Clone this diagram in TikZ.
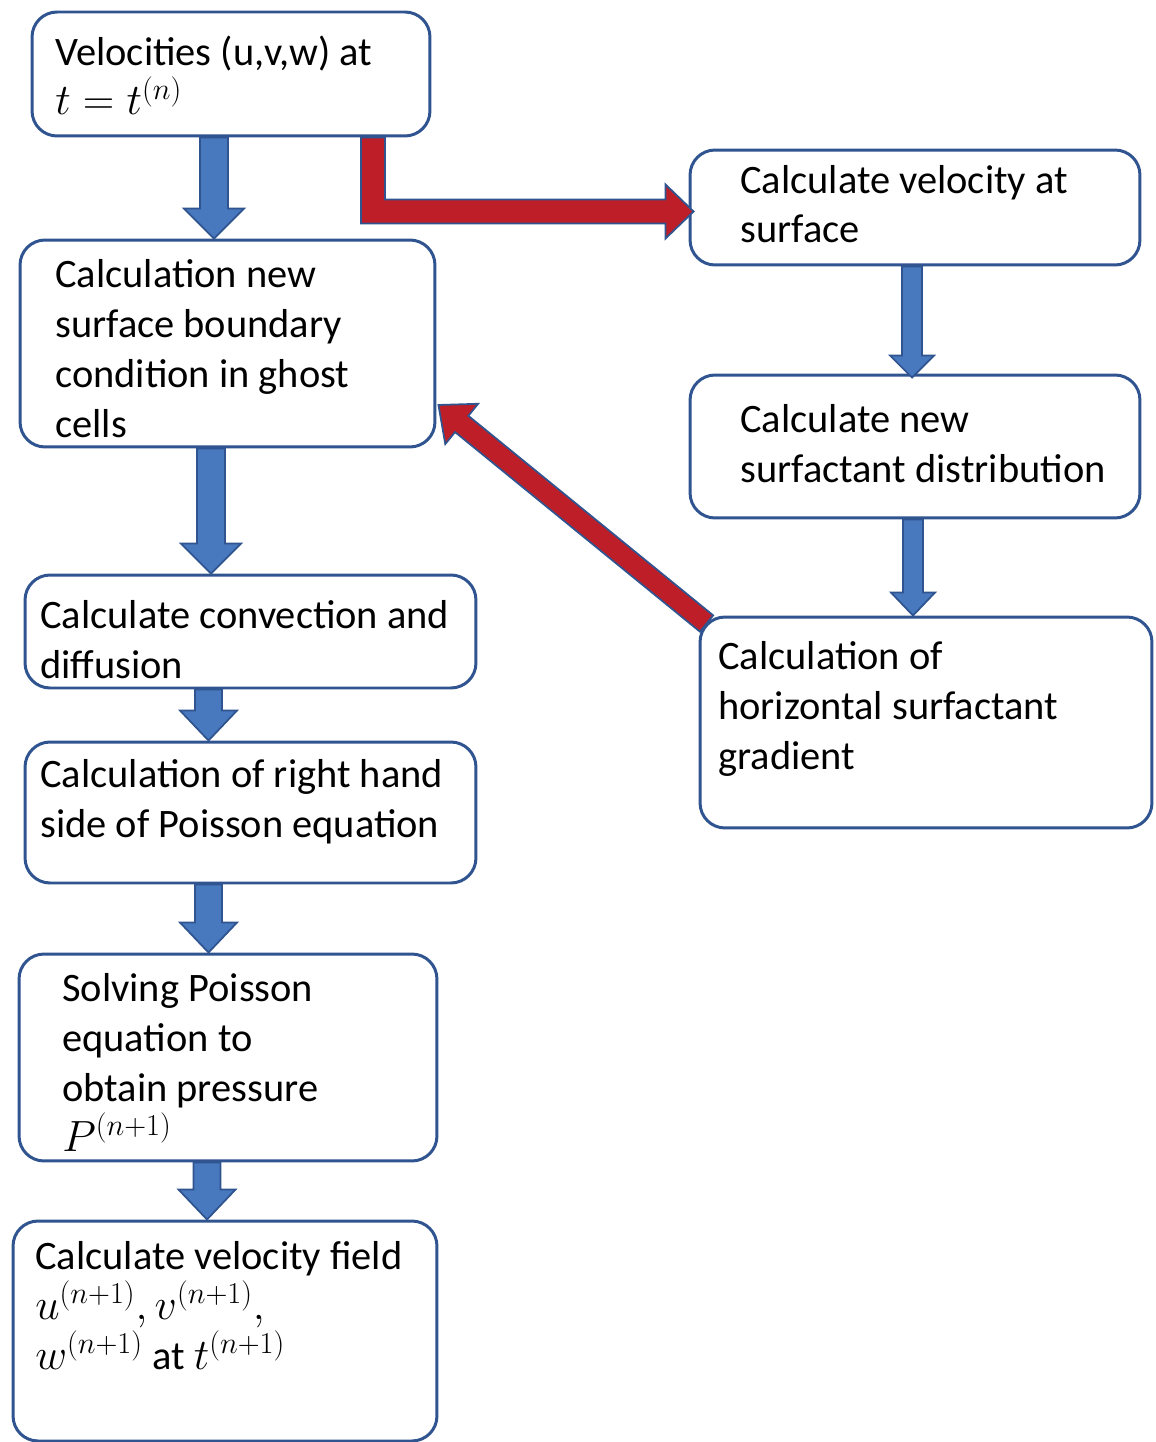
\documentclass[tikz,border=0pt]{standalone}
\usepackage{fontspec}
\setmainfont{Carlito}
\usetikzlibrary{calc, positioning}

\definecolor{boxline}{RGB}{47,84,143}
\definecolor{arrowblue}{RGB}{72,120,190}
\definecolor{arrowred}{RGB}{190,30,40}

\tikzset{
  box/.style={draw=boxline, line width=1.7pt, rounded corners=0.5cm, fill=white},
  txt/.style={inner sep=0pt, align=left, anchor=base west, font=\fontsize{23}{28.45}\selectfont},
  bluearrow/.style={draw=boxline, fill=arrowblue, line width=1pt},
  redarrow/.style={draw=boxline, fill=arrowred, line width=1pt}
}

% block arrow: [style]{from}{to}{shaft half width}{head half width}{head length}
\newcommand{\blockarrow}[6][bluearrow]{%
  \coordinate (ba-h) at ($(#3)!#6!(#2)$);
  \filldraw[#1] ($(#2)!#4!90:(#3)$) -- ($(ba-h)!#4!90:(#3)$) -- ($(ba-h)!#5!90:(#3)$)
    -- (#3) -- ($(ba-h)!#5!-90:(#3)$) -- ($(ba-h)!#4!-90:(#3)$) -- ($(#2)!#4!-90:(#3)$) -- cycle;
}

\begin{document}
\begin{tikzpicture}[x=0.02cm, y=-0.02cm]
		\useasboundingbox (0,0) rectangle (1155,1442);
		\lineskiplimit=-20pt
		
		% Cajas columna izquierda
		\node[box, minimum width=7.96cm, minimum height=2.48cm] (vel) at (231,74) {};
		\node[box, minimum width=8.3cm, minimum height=4.14cm] (bc) at (227.5,343.5) {};
		\node[box, minimum width=9.02cm, minimum height=2.26cm] (conv) at (250.5,631.5) {};
		\node[box, minimum width=9.02cm, minimum height=2.82cm] (rhs) at (250.5,812.5) {};
		\node[box, minimum width=8.36cm, minimum height=4.14cm] (poi) at (228,1057.5) {};
		\node[box, minimum width=8.48cm, minimum height=4.4cm] (vf) at (225,1331) {};
		
		% Cajas columna derecha
		\node[box, minimum width=9cm, minimum height=2.3cm] (surf) at (915,207.5) {};
		\node[box, minimum width=9cm, minimum height=2.86cm] (dist) at (915,446.5) {};
		\node[box, minimum width=9.04cm, minimum height=4.22cm] (grad) at (926,722.5) {};
		
		% Flechas azules
		\coordinate (a1) at ([xshift=-0.34cm]vel.south);
		\coordinate (b1) at (a1 |- bc.north);
		\blockarrow{a1}{b1}{0.28cm}{0.6cm}{0.6cm}
		\coordinate (a2) at ([xshift=-0.33cm]bc.south);
		\coordinate (b2) at (a2 |- conv.north);
		\blockarrow{a2}{b2}{0.28cm}{0.6cm}{0.6cm}
		\coordinate (a3) at ([xshift=-0.84cm]conv.south);
		\coordinate (b3) at (a3 |- rhs.north);
		\blockarrow{a3}{b3}{0.27cm}{0.57cm}{0.6cm}
		\coordinate (a4) at ([xshift=-0.84cm]rhs.south);
		\coordinate (b4) at (a4 |- poi.north);
		\blockarrow{a4}{b4}{0.27cm}{0.57cm}{0.6cm}
		\coordinate (a5) at ([xshift=-0.42cm]poi.south);
		\coordinate (b5) at (a5 |- vf.north);
		\blockarrow{a5}{b5}{0.27cm}{0.57cm}{0.6cm}
		\coordinate (a6) at ([xshift=-0.06cm]surf.south);
		\coordinate (b6) at ([yshift=-0.08cm]a6 |- dist.north);
		\blockarrow{a6}{b6}{0.2cm}{0.44cm}{0.44cm}
		\coordinate (a7) at ([xshift=-0.04cm]dist.south);
		\coordinate (b7) at (a7 |- grad.north);
		\blockarrow{a7}{b7}{0.2cm}{0.44cm}{0.46cm}
		
		% Flechas rojas
		\coordinate (rs) at ([xshift=2.84cm]vel.south);
		\coordinate (rt) at ([xshift=0.1cm, yshift=-0.08cm]surf.west);
		\coordinate (rc) at (rs |- rt);
		\filldraw[redarrow] ([xshift=-0.24cm]rs) -- ([xshift=-0.24cm, yshift=-0.24cm]rc)
			-- ([xshift=-0.56cm, yshift=-0.24cm]rt) -- ([xshift=-0.56cm, yshift=-0.54cm]rt) -- (rt)
			-- ([xshift=-0.56cm, yshift=0.54cm]rt) -- ([xshift=-0.56cm, yshift=0.24cm]rt)
			-- ([xshift=0.24cm, yshift=0.24cm]rc) -- ([xshift=0.24cm]rs) -- cycle;
		\coordinate (gs) at ([xshift=0.16cm, yshift=-0.16cm]grad.north west);
		\coordinate (ge) at ([xshift=0.04cm, yshift=-1.23cm]bc.east);
		\blockarrow[redarrow]{gs}{ge}{0.21cm}{0.52cm}{0.6cm}
		
		% Textos (base = ultima linea)
		\node[txt] (velT) at (55,115) {Velocities (u,v,w) at\\$t=t^{(n)}$};
		\node[txt] (bcT) at (55,437) {Calculation new\\surface boundary\\condition in ghost\\cells};
		\node[txt] (convT) at (40,678) {Calculate convection and\\diffusion};
		\node[txt] (rhsT) at (40,837) {Calculation of right hand\\side of Poisson equation};
		\node[txt] (poiT) at (62,1151) {Solving Poisson\\equation to\\obtain pressure\\$P^{(n+1)}$};
		\node[txt] (vfT) at (35,1369) {Calculate velocity field\\$u^{(n+1)},v^{(n+1)},$\\$w^{(n+1)}$ at $t^{(n+1)}$};
		\node[txt] (surfT) at (740,243) {Calculate velocity at\\surface};
		\node[txt] (distT) at (740,482) {Calculate new\\surfactant distribution};
		\node[txt] (gradT) at (718,769) {Calculation of\\horizontal surfactant\\gradient};
		
\end{tikzpicture}
\end{document}
